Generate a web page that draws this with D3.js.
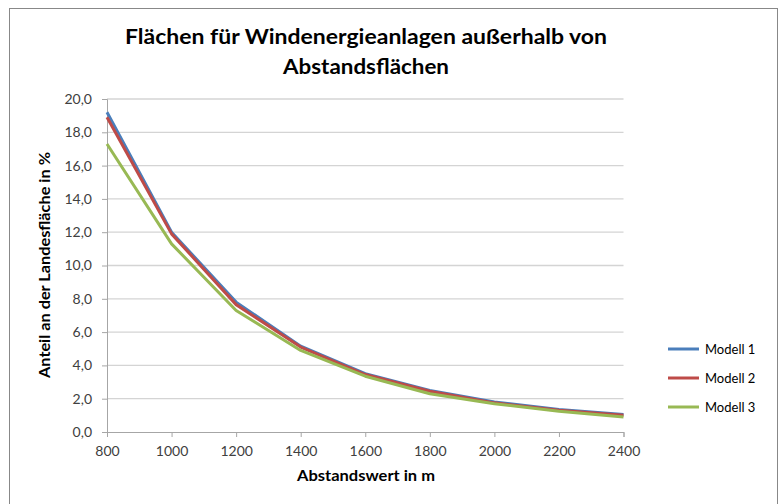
<!DOCTYPE html>
<html>
<head>
<meta charset="utf-8">
<script src="https://cdn.jsdelivr.net/npm/d3@7/dist/d3.min.js"></script>
<style>
  html, body { margin: 0; padding: 0; background: #fff; }
  svg { display: block; }
  text { font-family: Lato, "Open Sans", "Liberation Sans", sans-serif; }
</style>
</head>
<body>
<svg id="chart" width="781" height="504"></svg>
<script>
// Distance values (m) along the x axis
const distances = [800, 1000, 1200, 1400, 1600, 1800, 2000, 2200, 2400];
// Share of state area (%) usable for wind turbines, per model
const modell1 = [19.2, 12.0, 7.8, 5.15, 3.5, 2.5, 1.8, 1.35, 1.05];
const modell2 = [18.9, 11.9, 7.65, 5.1, 3.45, 2.45, 1.75, 1.3, 1.0];
const modell3 = [17.3, 11.3, 7.3, 4.9, 3.35, 2.3, 1.7, 1.25, 0.9];
const seriesNames = ["Modell 1", "Modell 2", "Modell 3"];
const seriesColors = ["#4a7ebb", "#be4b48", "#98b954"];
const yTicks = [0, 2, 4, 6, 8, 10, 12, 14, 16, 18, 20];
const titleLines = ["Flächen für Windenergieanlagen außerhalb von", "Abstandsflächen"];
const xTitle = "Abstandswert in m";
const yTitle = "Anteil an der Landesfläche in %";

const series = [modell1, modell2, modell3].map((vals, i) => ({
  name: seriesNames[i],
  color: seriesColors[i],
  values: vals.map((v, j) => ({ x: distances[j], y: v }))
}));

const svg = d3.select("#chart");

// chart frame
svg.append("rect")
  .attr("x", 9.5).attr("y", 8.5)
  .attr("width", 768).attr("height", 520)
  .attr("fill", "#fff")
  .attr("stroke", "#888").attr("stroke-width", 1);

const plot = { left: 107, right: 623.5, top: 99, bottom: 432 };

const x = d3.scalePoint().domain(distances).range([plot.left, plot.right]);
const y = d3.scaleLinear().domain([0, 20]).range([plot.bottom, plot.top]);

const fmt = d => d3.format(".1f")(d).replace(".", ",");

// horizontal gridlines
svg.append("g")
  .selectAll("line")
  .data(yTicks.filter(t => t > 0))
  .join("line")
  .attr("x1", plot.left).attr("x2", plot.right)
  .attr("y1", d => y(d)).attr("y2", d => y(d))
  .attr("stroke", "#d4d4d4").attr("stroke-width", 1.3);

// y axis
const yAxis = svg.append("g")
  .attr("transform", `translate(${plot.left},0)`)
  .call(d3.axisLeft(y).tickValues(yTicks).tickFormat(fmt).tickSize(5).tickPadding(10));
yAxis.select(".domain").attr("stroke", "#a6a6a6");
yAxis.selectAll(".tick line").attr("stroke", "#a6a6a6");
yAxis.selectAll(".tick text")
  .attr("fill", "#404040")
  .style("font-size", "14px")
  .style("font-family", "Lato, 'Open Sans', sans-serif");

// x axis
const xAxis = svg.append("g")
  .attr("transform", `translate(0,${plot.bottom})`)
  .call(d3.axisBottom(x).tickSize(5).tickPadding(9));
xAxis.select(".domain").attr("stroke", "#a6a6a6");
xAxis.selectAll(".tick line").attr("stroke", "#a6a6a6");
xAxis.selectAll(".tick text")
  .attr("fill", "#404040")
  .style("font-size", "14px")
  .style("font-family", "Lato, 'Open Sans', sans-serif");

// series lines
const line = d3.line().x(d => x(d.x)).y(d => y(d.y));
svg.append("g")
  .selectAll("path")
  .data(series)
  .join("path")
  .attr("d", d => line(d.values))
  .attr("fill", "none")
  .attr("stroke", d => d.color)
  .attr("stroke-width", 3)
  .attr("stroke-linejoin", "round");

// title
const titleWidths = [482, 166];
svg.append("g")
  .selectAll("text")
  .data(titleLines)
  .join("text")
  .attr("x", 366)
  .attr("y", (d, i) => 44 + i * 30)
  .attr("text-anchor", "middle")
  .attr("textLength", (d, i) => titleWidths[i])
  .attr("lengthAdjust", "spacingAndGlyphs")
  .attr("fill", "#000")
  .style("font-size", "21.5px")
  .style("font-weight", "bold")
  .text(d => d);

// axis titles
svg.append("text")
  .attr("x", 366).attr("y", 481)
  .attr("text-anchor", "middle")
  .attr("textLength", 138)
  .attr("lengthAdjust", "spacingAndGlyphs")
  .attr("fill", "#000")
  .style("font-size", "15px")
  .style("font-weight", "bold")
  .text(xTitle);

svg.append("text")
  .attr("transform", "translate(50,265) rotate(-90)")
  .attr("text-anchor", "middle")
  .attr("textLength", 226)
  .attr("lengthAdjust", "spacingAndGlyphs")
  .attr("fill", "#000")
  .style("font-size", "15px")
  .style("font-weight", "bold")
  .text(yTitle);

// legend
const legend = svg.append("g")
  .selectAll("g")
  .data(series)
  .join("g")
  .attr("transform", (d, i) => `translate(668,${349 + i * 29})`);
legend.append("line")
  .attr("x1", 0).attr("x2", 31)
  .attr("stroke", d => d.color)
  .attr("stroke-width", 3);
legend.append("text")
  .attr("x", 37).attr("y", 4.5)
  .attr("fill", "#000")
  .style("font-size", "13px")
  .text(d => d.name);
</script>
</body>
</html>
